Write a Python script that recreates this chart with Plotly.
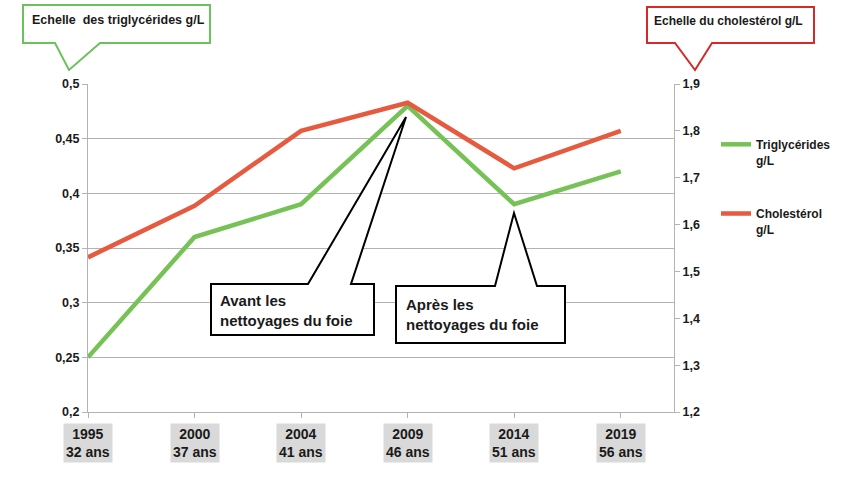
import plotly.graph_objects as go

# ---- data ----
years = ["1995", "2000", "2004", "2009", "2014", "2019"]
ages = ["32 ans", "37 ans", "41 ans", "46 ans", "51 ans", "56 ans"]
triglycerides = [0.25, 0.36, 0.39, 0.48, 0.39, 0.42]
cholesterol = [1.53, 1.64, 1.80, 1.86, 1.72, 1.80]
left_ticks = [0.2, 0.25, 0.3, 0.35, 0.4, 0.45, 0.5]
left_ticktext = ["0,2", "0,25", "0,3", "0,35", "0,4", "0,45", "0,5"]
right_ticks = [1.2, 1.3, 1.4, 1.5, 1.6, 1.7, 1.8, 1.9]
right_ticktext = ["1,2", "1,3", "1,4", "1,5", "1,6", "1,7", "1,8", "1,9"]
series_names = ["Triglycérides<br>g/L", "Cholestérol<br>g/L"]
left_title = "Echelle  des triglycérides g/L"
right_title = "Echelle du cholestérol g/L"
callout1 = "Avant les<br>nettoyages du foie"
callout2 = "Après les<br>nettoyages du foie"

GREEN = "#76c257"
RED = "#e65a3f"
GRID = "#b3b3b3"
TXT = "#1a1a1a"
FONT = "Liberation Sans"

W, H = 843, 481
L, R, T, B = 88, 169, 84, 69
PW, PH = W - L - R, H - T - B


def px(x):
    return (x - L) / PW


def py(y):
    return (H - B - y) / PH


def path(points):
    s = "M " + " L ".join(f"{px(x):.5f},{py(y):.5f}" for x, y in points) + " Z"
    return s


xs = list(range(len(years)))

fig = go.Figure()
fig.add_trace(go.Scatter(x=xs, y=triglycerides, mode="lines", name=series_names[0],
                         line=dict(color=GREEN, width=4.5), legendgroup="a"))
fig.add_trace(go.Scatter(x=xs, y=cholesterol, mode="lines", name=series_names[1],
                         line=dict(color=RED, width=4.5), legendgroup="b", yaxis="y2"))

shapes = []
annotations = []

# title callouts
shapes.append(dict(type="path", xref="paper", yref="paper",
                   path=path([(23, 5), (210, 5), (210, 43), (100, 43), (69, 70), (55, 43), (23, 43)]),
                   line=dict(color="#6cc15f", width=2), fillcolor="white"))
annotations.append(dict(xref="paper", yref="paper", x=px(30), y=py(20), xanchor="left", yanchor="middle",
                        text=left_title, showarrow=False,
                        font=dict(family=FONT, size=12.5, color=TXT, weight="bold")))
shapes.append(dict(type="path", xref="paper", yref="paper",
                   path=path([(647, 7), (814, 7), (814, 43), (712, 43), (695, 70), (675, 43), (647, 43)]),
                   line=dict(color="#d42a2a", width=2), fillcolor="white"))
annotations.append(dict(xref="paper", yref="paper", x=px(652), y=py(21), xanchor="left", yanchor="middle",
                        text=right_title, showarrow=False,
                        font=dict(family=FONT, size=12, color=TXT, weight="bold")))

# black callouts
shapes.append(dict(type="path", xref="paper", yref="paper",
                   path=path([(211, 284), (308, 284), (406, 117), (351, 284), (374, 284), (374, 335), (211, 335)]),
                   line=dict(color="black", width=2), fillcolor="white"))
annotations.append(dict(xref="paper", yref="paper", x=px(218), y=py(310), xanchor="left", yanchor="middle",
                        text=callout1, showarrow=False, align="left",
                        font=dict(family=FONT, size=15, color=TXT, weight="bold")))
shapes.append(dict(type="path", xref="paper", yref="paper",
                   path=path([(396, 286), (495, 286), (514, 213), (537, 286), (565, 286), (565, 343), (396, 343)]),
                   line=dict(color="black", width=2), fillcolor="white"))
annotations.append(dict(xref="paper", yref="paper", x=px(404), y=py(314), xanchor="left", yanchor="middle",
                        text=callout2, showarrow=False, align="left",
                        font=dict(family=FONT, size=15, color=TXT, weight="bold")))

# category labels with grey background
for i, (yr, ag) in enumerate(zip(years, ages)):
    annotations.append(dict(xref="x", yref="paper", x=i, y=py(423), xanchor="center", yanchor="top",
                            text=f"{yr}<br>{ag}", showarrow=False, bgcolor="#d9d9d9", borderpad=2,
                            font=dict(family=FONT, size=14, color=TXT, weight="bold")))

fig.update_layout(
    width=W, height=H,
    margin=dict(l=L, r=R, t=T, b=B, autoexpand=False),
    paper_bgcolor="white", plot_bgcolor="white",
    shapes=shapes, annotations=annotations,
    font=dict(family=FONT, color=TXT),
    xaxis=dict(range=[0, 5.5], tickvals=xs, showticklabels=False, showgrid=False, zeroline=False,
               showline=True, linecolor=GRID, linewidth=1, ticks="outside", ticklen=5, tickcolor=GRID),
    yaxis=dict(range=[0.2, 0.5], tickvals=left_ticks, ticktext=left_ticktext, showgrid=True,
               gridcolor=GRID, gridwidth=1, zeroline=False, showline=True, linecolor=GRID,
               ticks="outside", ticklen=5, tickcolor=GRID,
               tickfont=dict(family=FONT, size=12.5, color=TXT, weight="bold")),
    yaxis2=dict(range=[1.2, 1.9], tickvals=right_ticks, ticktext=right_ticktext, overlaying="y",
                side="right", showgrid=False, zeroline=False, showline=True, linecolor=GRID,
                ticks="outside", ticklen=5, tickcolor=GRID,
                tickfont=dict(family=FONT, size=12.5, color=TXT, weight="bold")),
    legend=dict(x=px(716), y=py(130), xanchor="left", yanchor="top", valign="top",
                tracegroupgap=35, bgcolor="rgba(0,0,0,0)",
                font=dict(family=FONT, size=12, color=TXT, weight="bold")),
    showlegend=True,
)

fig.write_html("out.html")
